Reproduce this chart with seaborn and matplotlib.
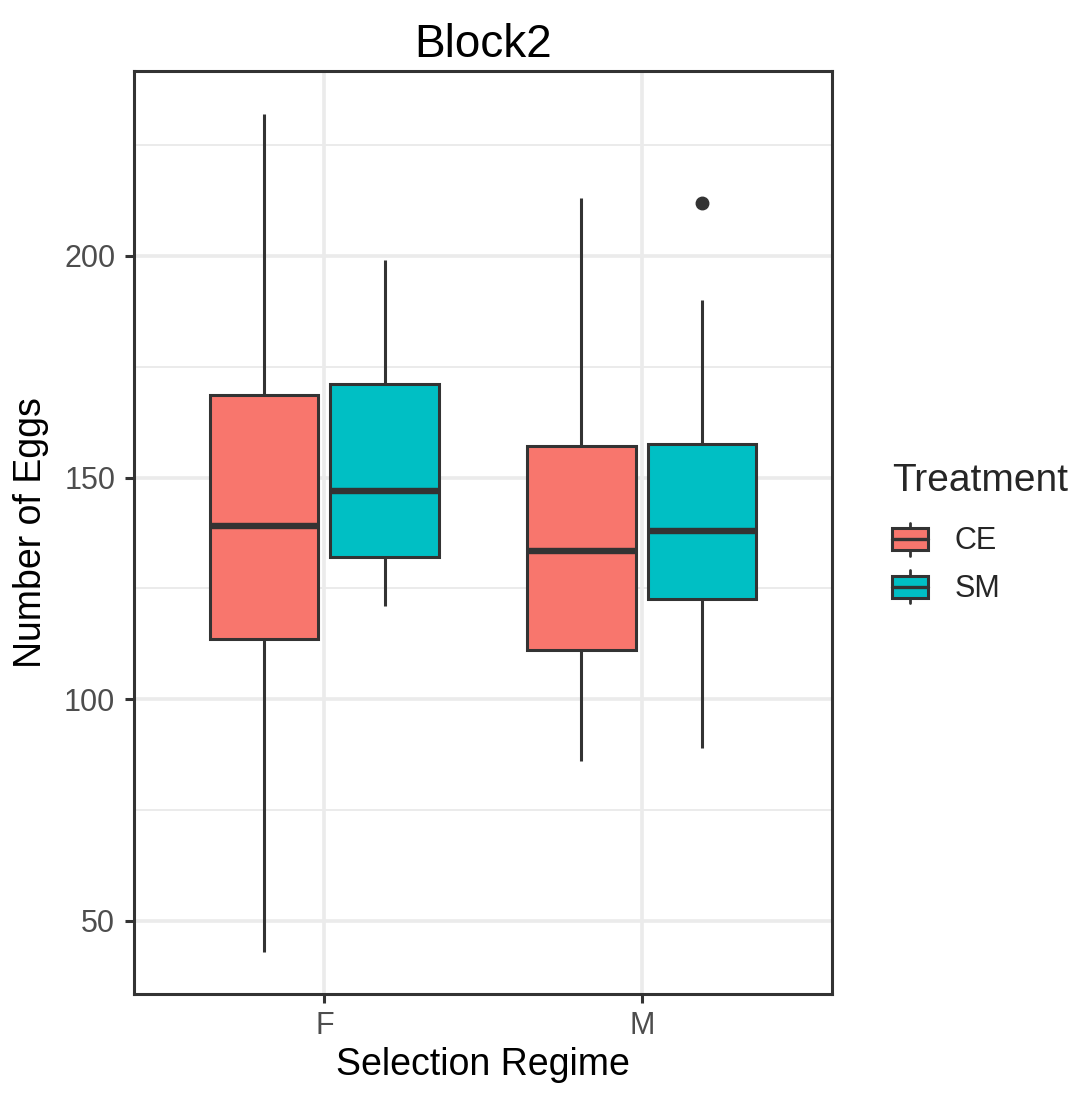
import numpy as np
import pandas as pd
import matplotlib
matplotlib.use("Agg")
import matplotlib.pyplot as plt
import seaborn as sns
from matplotlib.patches import Patch, Rectangle
from matplotlib.lines import Line2D
from matplotlib.legend_handler import HandlerBase
from matplotlib.ticker import MultipleLocator

# five-number summaries, one entry per box
regime = ["F", "F", "M", "M"]
treatment = ["CE", "SM", "CE", "SM"]
whisker_lo = [43.0, 121.0, 86.0, 89.0]
q1 = [113.5, 132.0, 111.0, 122.5]
median = [139.0, 147.0, 133.5, 138.0]
q3 = [168.5, 171.0, 157.0, 157.5]
whisker_hi = [232.0, 199.0, 213.0, 190.0]
outliers = [[], [], [], [212.0]]

regime_order = ["F", "M"]
treat_order = ["CE", "SM"]
colors = {"CE": "#F8766D", "SM": "#00BFC4"}
LINE = "#333333"

# long-form sample per box: the summary values (4 copies each) plus outliers,
# so seaborn's own quartile / whisker computation gives back the same box
rows = []
for i in range(len(regime)):
    core = [whisker_lo[i], q1[i], median[i], q3[i], whisker_hi[i]] * 4
    for v in core + outliers[i]:
        rows.append({"Regime": regime[i], "Treatment": treatment[i], "Eggs": v})
df = pd.DataFrame(rows)


class BoxKey(HandlerBase):
    # ggplot-like legend key: box with median line and whisker
    def create_artists(self, legend, orig_handle, xdescent, ydescent,
                       width, height, fontsize, trans):
        fc = orig_handle.get_facecolor()
        x0, y0 = -xdescent, -ydescent
        whisk = Line2D([x0 + width / 2] * 2, [y0, y0 + height],
                       color=LINE, lw=2.0, transform=trans)
        box = Rectangle((x0, y0 + height * 0.17), width, height * 0.66,
                        facecolor=fc, edgecolor=LINE, lw=2.2, transform=trans)
        med = Line2D([x0, x0 + width], [y0 + height / 2] * 2,
                     color=LINE, lw=2.4, transform=trans)
        return [whisk, box, med]


sns.set_theme(style="white")
plt.rcParams["font.family"] = ["Liberation Sans", "DejaVu Sans"]

fig = plt.figure(figsize=(10.84, 10.97), dpi=100)
ax = fig.add_axes([0.1236, 0.0939, 0.644, 0.8414])

sns.boxplot(data=df, x="Regime", y="Eggs", hue="Treatment",
            order=regime_order, hue_order=treat_order,
            palette=colors, saturation=1, width=0.76, gap=0.1,
            linecolor=LINE, linewidth=2.2, fliersize=9,
            flierprops={"marker": "o", "markerfacecolor": LINE,
                        "markeredgecolor": LINE},
            medianprops={"linewidth": 4.6, "color": LINE},
            capprops={"visible": False},
            legend=False, ax=ax)

ax.set_xlim(-0.6, 1.6)
ax.set_ylim(33.5, 241.7)
ax.yaxis.set_major_locator(MultipleLocator(50))
ax.yaxis.set_minor_locator(MultipleLocator(25))
ax.set_axisbelow(True)
ax.grid(which="major", color="#EBEBEB", linewidth=2.6)
ax.grid(which="minor", axis="y", color="#EBEBEB", linewidth=1.4)

for sp in ax.spines.values():
    sp.set_visible(True)
    sp.set_color(LINE)
    sp.set_linewidth(2.2)

ax.tick_params(which="major", direction="out", length=6.5, width=2.2,
               color=LINE, labelcolor="#4D4D4D", labelsize=22,
               left=True, bottom=True)
ax.tick_params(axis="y", pad=7)
ax.tick_params(axis="x", pad=6)
ax.tick_params(which="minor", length=0)

ax.set_title("Block2", fontsize=33, color="black", pad=10)
ax.set_xlabel("Selection Regime", fontsize=27, color="black", labelpad=4)
ax.set_ylabel("Number of Eggs", fontsize=27, color="black", labelpad=11)

handles = [Patch(facecolor=colors[t], edgecolor=LINE) for t in treat_order]
leg = ax.legend(handles, treat_order, title="Treatment",
                handler_map={Patch: BoxKey()},
                loc="upper left", bbox_to_anchor=(0.823, 0.578),
                bbox_transform=fig.transFigure, frameon=False,
                fontsize=22, title_fontsize=28, alignment="left",
                handlelength=1.18, handleheight=1.3, labelspacing=0.45,
                handletextpad=0.85, borderpad=0, borderaxespad=0)
leg._legend_box.sep = 17

fig.savefig("out.png", dpi=100)
